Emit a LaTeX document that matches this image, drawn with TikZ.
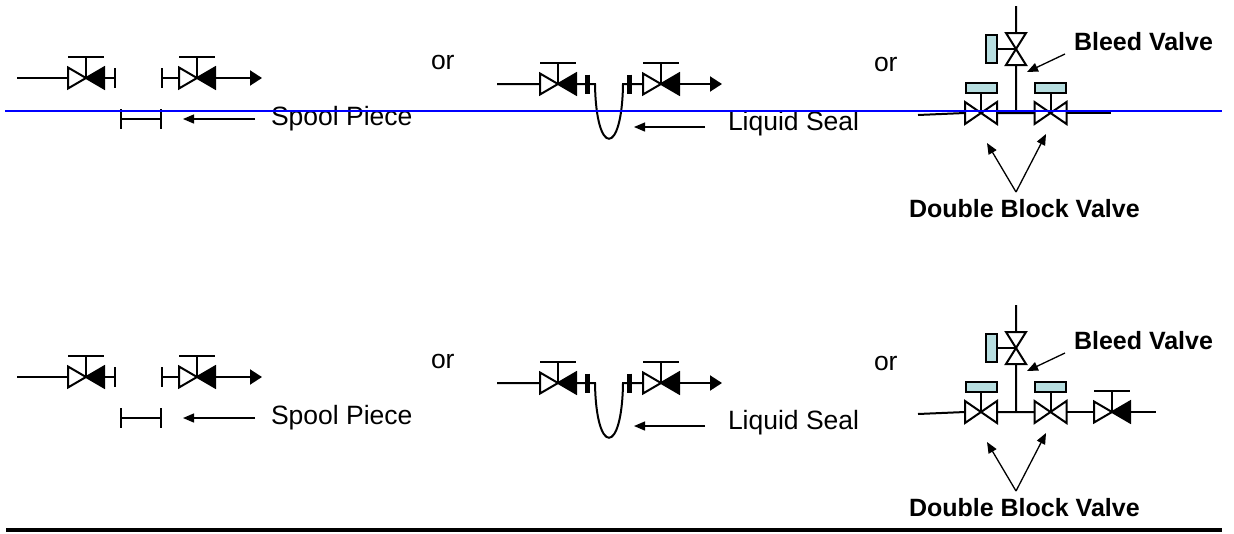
\documentclass[tikz,border=0pt]{standalone}
\usepackage{fontspec}
\setmainfont{Liberation Sans}
\usetikzlibrary{arrows.meta}
\definecolor{actfill}{HTML}{B7DEE0}

\tikzset{
  checkvalve/.pic={
    \draw[fill=white] (-18,-10.5) -- (0,0) -- (-18,10.5) -- cycle;
    \filldraw (18,-10.5) -- (0,0) -- (18,10.5) -- cycle;
    \draw (0,0) -- (0,-21) (-18,-21) -- (18,-21);
    \coordinate (-l) at (-18,0); \coordinate (-r) at (18,0);
  },
  gatevalve/.pic={
    \draw[fill=white] (-16,-11) -- (16,11) -- (16,-11) -- (-16,11) -- cycle;
    \draw (0,0) -- (0,-20);
    \draw[fill=actfill] (-15.5,-30) rectangle (15.5,-20);
    \coordinate (-l) at (-16,0); \coordinate (-r) at (16,0);
  },
  bleedvalve/.pic={
    \draw[fill=white] (-10,-16) -- (10,16) -- (-10,16) -- (10,-16) -- cycle;
    \draw (0,0) -- (-19,0);
    \draw[fill=actfill] (-30,-14) rectangle (-19,14);
    \coordinate (-t) at (0,-16); \coordinate (-b) at (0,16);
  },
  flange/.pic={
    \draw (0,-10) -- (0,10);
    \coordinate (-c) at (0,0);
  },
  blind/.pic={
    \draw[line width=5pt] (0,-9.5) -- (0,9.5);
    \coordinate (-c) at (0,0);
  },
}

\begin{document}
\begin{tikzpicture}[x=1pt,y=-1pt,line width=2pt,
    pipe/.style={line width=2pt},
    flow/.style={pipe,-{Triangle[length=12pt,width=15pt]}},
    pointer/.style={line width=1.3pt,-{Triangle[length=11pt,width=9pt]}},
    label/.style={font=\fontsize{26.5}{30}\selectfont,inner sep=0pt},
    tag/.style={font=\fontsize{25}{30}\selectfont\bfseries,inner sep=0pt}]
  \useasboundingbox (0,0) rectangle (1234,533);

  \foreach \r/\dy in {top/0,bot/299} {
    \begin{scope}[shift={(0,\dy)}]
      % spool piece
      \coordinate (a\r) at (17,78);
      \pic (v1\r) at (86,78) {checkvalve};
      \pic (f1\r) at (115,78) {flange};
      \pic (f2\r) at (162,78) {flange};
      \pic (v2\r) at (197,78) {checkvalve};
      \coordinate (aout\r) at (262,78);
      \draw[pipe] (a\r) -- (v1\r-l) (v1\r-r) -- (f1\r-c) (f2\r-c) -- (v2\r-l);
      \draw[flow] (v2\r-r) -- (aout\r);
      \pic (s1\r) at (121,119) {flange};
      \pic (s2\r) at (161,119) {flange};
      \draw[pipe] (s1\r-c) -- (s2\r-c);
      \coordinate (spt\r) at (255,119);
      \coordinate (sph\r) at (183,119);
      \draw[pointer] (spt\r) -- (sph\r);
      \node[label,anchor=base west] (spool\r) at (270,125) {Spool Piece};
      \node[label,anchor=base west] (or1\r) at (430,69) {or};

      % liquid seal
      \coordinate (b\r) at (497,84);
      \pic (v3\r) at (558,84) {checkvalve};
      \pic (f3\r) at (587.5,84) {blind};
      \coordinate (u1\r) at (595,84);
      \coordinate (u2\r) at (623,84);
      \pic (f4\r) at (629.5,84) {blind};
      \pic (v4\r) at (661,84) {checkvalve};
      \coordinate (bout\r) at (722,84);
      \draw[pipe] (b\r) -- (v3\r-l) (v3\r-r) -- (u1\r)
        .. controls (596,157) and (622,157) .. (u2\r) -- (v4\r-l);
      \draw[flow] (v4\r-r) -- (bout\r);
      \coordinate (lst\r) at (705,127);
      \coordinate (lsh\r) at (634,127);
      \draw[pointer] (lst\r) -- (lsh\r);
      \node[label,anchor=base west] (seal\r) at (727,130) {Liquid Seal};
      \node[label,anchor=base west] (or2\r) at (873,71) {or};

      % double block and bleed
      \coordinate (c\r) at (918,115);
      \pic (g1\r) at (981,113) {gatevalve};
      \coordinate (tee\r) at (1016,113);
      \pic (g2\r) at (1050.5,113) {gatevalve};
      \pic (bv\r) at (1016,49) {bleedvalve};
      \coordinate (vent\r) at (1016,6);
      \draw[pipe] (c\r) -- (g1\r-l) (g1\r-r) -- (g2\r-l)
        (tee\r) -- (bv\r-b) (bv\r-t) -- (vent\r);
      \ifnum\dy>0
        \pic (v5\r) at (1112,113) {checkvalve};
        \coordinate (cend\r) at (1156,113);
        \draw[pipe] (g2\r-r) -- (v5\r-l) (v5\r-r) -- (cend\r);
      \else
        \coordinate (cend\r) at (1111,113);
        \draw[pipe] (g2\r-r) -- (cend\r);
      \fi
      \node[tag,anchor=base west] (bleed\r) at (1073,50) {Bleed Valve};
      \coordinate (bvt\r) at (1065,54);
      \coordinate (bvh\r) at (1027,72);
      \draw[pointer] (bvt\r) -- (bvh\r);
      \node[tag,anchor=base west] (dbb\r) at (908,217) {Double Block Valve};
      \coordinate (dbt\r) at (1016,192);
      \coordinate (dbh1\r) at (987,143);
      \coordinate (dbh2\r) at (1046,134);
      \draw[pointer] (dbt\r) -- (dbh1\r);
      \draw[pointer] (dbt\r) -- (dbh2\r);
    \end{scope}
  }

  \coordinate (rule1) at (6,530);
  \coordinate (rule2) at (1222,530);
  \draw[line width=3.5pt] (rule1) -- (rule2);
  \coordinate (mark1) at (5,111);
  \coordinate (mark2) at (1222,111);
  \draw[blue,line width=1.6pt] (mark1) -- (mark2);
\end{tikzpicture}
\end{document}
